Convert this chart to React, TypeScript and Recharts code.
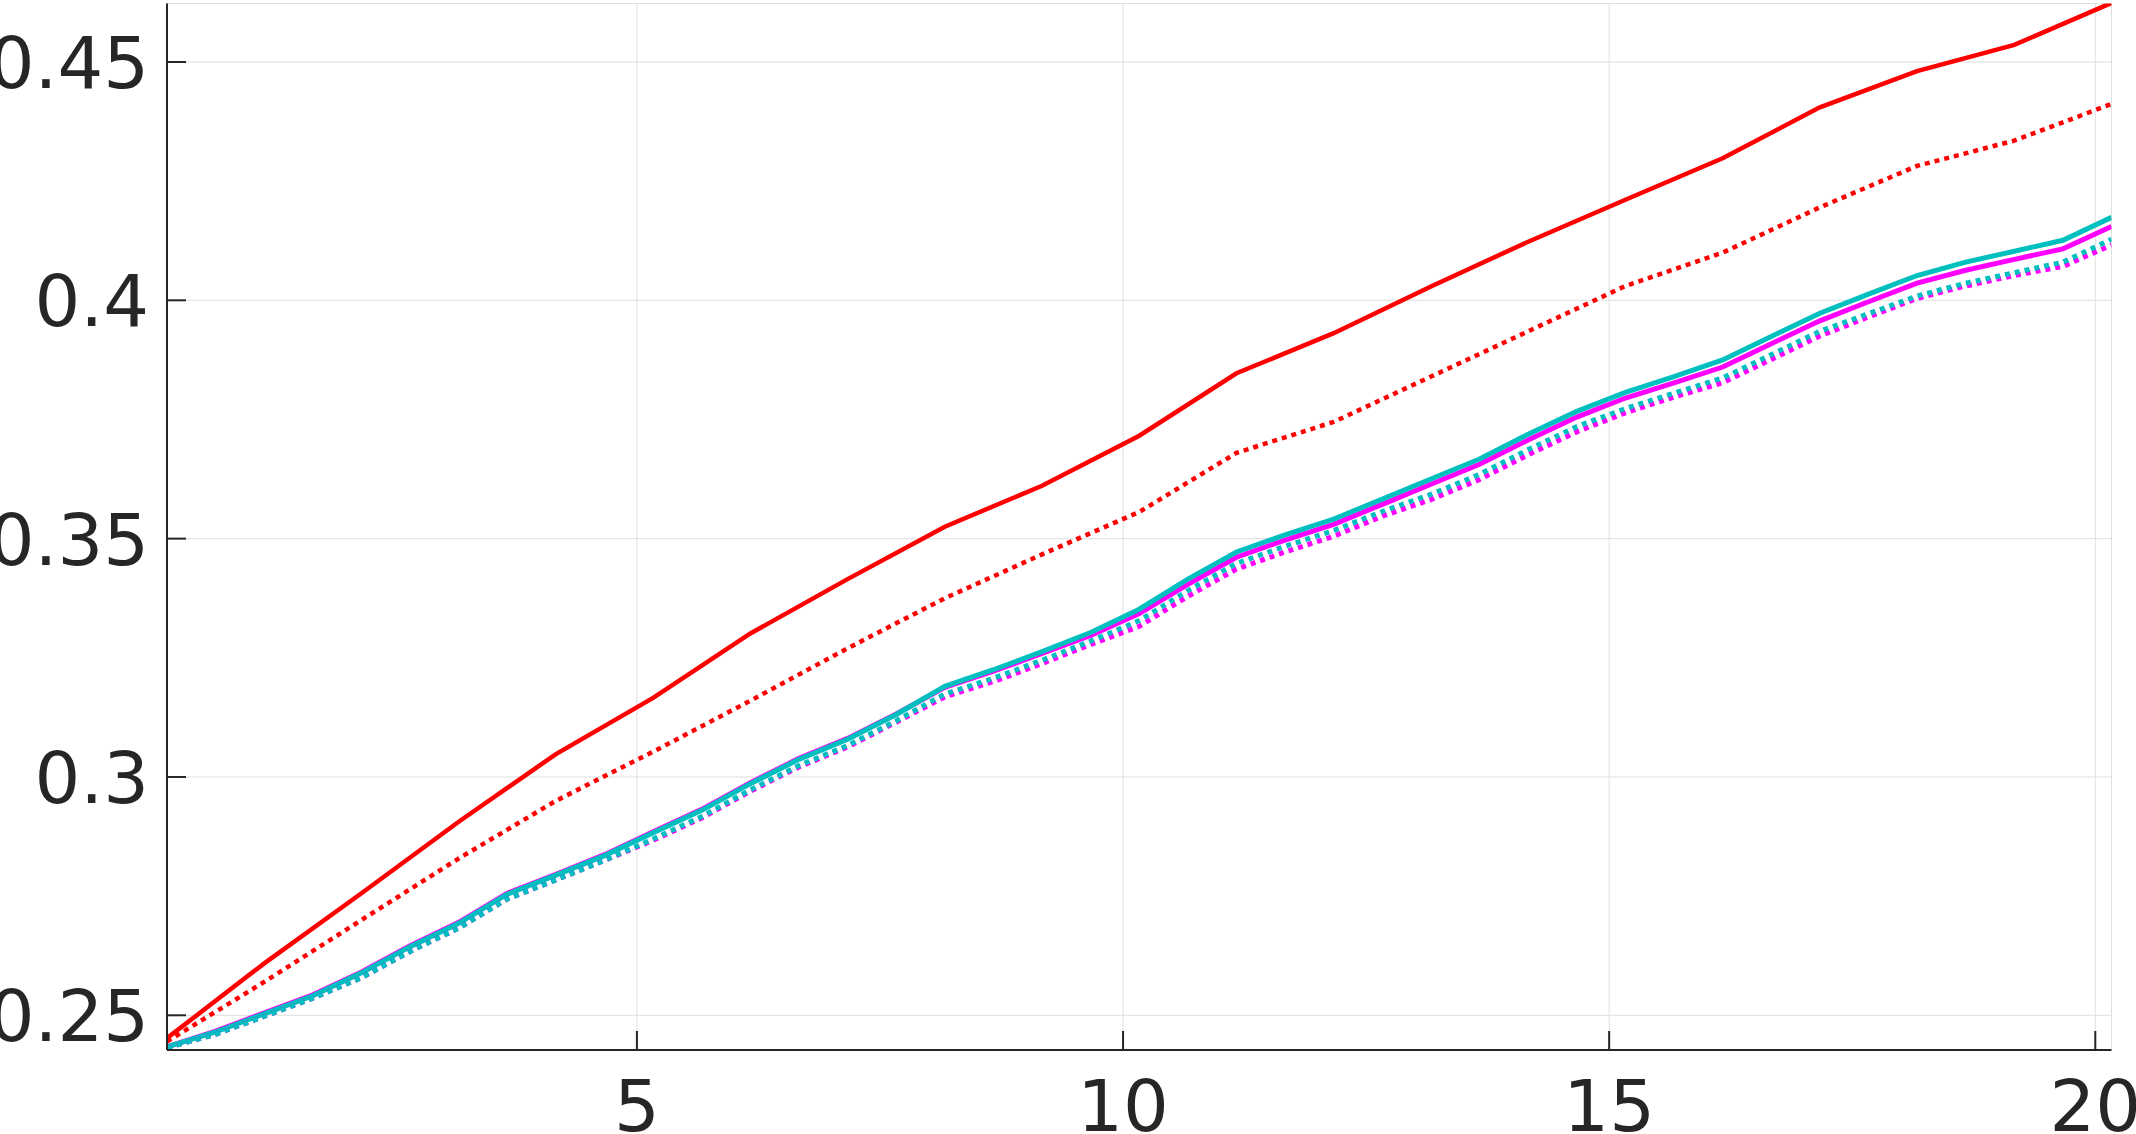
import { LineChart, Line, XAxis, YAxis, CartesianGrid } from "recharts";

// x positions: red runs are sampled once per epoch, the others every half epoch
const redX = [
  0.167, 1.167, 2.167, 3.167, 4.167, 5.167, 6.167, 7.167, 8.167, 9.167, 10.167,
  11.167, 12.167, 13.167, 14.167, 15.167, 16.167, 17.167, 18.167, 19.167, 20.167,
];
const halfX = [
  0.167, 0.667, 1.167, 1.667, 2.167, 2.667, 3.167, 3.667, 4.167, 4.667, 5.167,
  5.667, 6.167, 6.667, 7.167, 7.667, 8.167, 8.667, 9.167, 9.667, 10.167, 10.667,
  11.167, 11.667, 12.167, 12.667, 13.167, 13.667, 14.167, 14.667, 15.167, 15.667,
  16.167, 16.667, 17.167, 17.667, 18.167, 18.667, 19.167, 19.667, 20.167,
];

const redSolid = [
  0.2452, 0.2609, 0.2756, 0.2906, 0.3048, 0.3166, 0.3301, 0.3415, 0.3525, 0.3611,
  0.3716, 0.3847, 0.3931, 0.4029, 0.4123, 0.4211, 0.4298, 0.4405, 0.4481, 0.4536,
  0.4624,
];
const redDotted = [
  0.2445, 0.257, 0.27, 0.2829, 0.295, 0.3053, 0.316, 0.327, 0.3375, 0.3467,
  0.3556, 0.368, 0.3745, 0.384, 0.3935, 0.403, 0.41, 0.4195, 0.4282, 0.4335,
  0.4412,
];
const tealSolid = [
  0.2434, 0.2465, 0.2503, 0.2541, 0.2589, 0.2644, 0.2693, 0.2754, 0.2794, 0.2835,
  0.2883, 0.293, 0.2986, 0.3037, 0.3079, 0.3131, 0.319, 0.3225, 0.3263, 0.3303,
  0.3352, 0.3415, 0.3472, 0.3508, 0.3541, 0.3583, 0.3625, 0.3667, 0.3719, 0.3767,
  0.3807, 0.384, 0.3875, 0.3924, 0.3973, 0.4013, 0.4052, 0.408, 0.4103, 0.4126,
  0.4174,
];
const magentaSolid = [
  0.2434, 0.2467, 0.2505, 0.2543, 0.2591, 0.2646, 0.2695, 0.2756, 0.2796, 0.2837,
  0.2885, 0.2932, 0.2988, 0.3039, 0.3081, 0.3132, 0.3188, 0.3222, 0.3259, 0.3297,
  0.3343, 0.3404, 0.3461, 0.3497, 0.353, 0.3572, 0.3614, 0.3656, 0.3707, 0.3755,
  0.3795, 0.3827, 0.386, 0.3909, 0.3957, 0.3997, 0.4036, 0.4063, 0.4086, 0.4108,
  0.4155,
];
const tealDotted = [
  0.2432, 0.246, 0.2498, 0.2536, 0.2579, 0.2634, 0.2683, 0.2744, 0.2784, 0.2825,
  0.287, 0.2917, 0.2973, 0.3024, 0.3066, 0.3118, 0.3174, 0.3207, 0.3245, 0.3285,
  0.3328, 0.3391, 0.3448, 0.3484, 0.3517, 0.3557, 0.3593, 0.3635, 0.3687, 0.3735,
  0.3773, 0.3805, 0.3837, 0.3886, 0.3935, 0.3972, 0.4009, 0.4036, 0.4058, 0.408,
  0.4128,
];
const magentaDotted = [
  0.2432, 0.246, 0.2498, 0.2536, 0.2579, 0.2634, 0.2683, 0.2744, 0.2784, 0.2825,
  0.2867, 0.2914, 0.297, 0.3021, 0.3063, 0.3115, 0.3168, 0.32, 0.3238, 0.3278,
  0.3316, 0.3379, 0.3436, 0.3472, 0.3505, 0.3547, 0.3582, 0.3624, 0.3676, 0.3724,
  0.3764, 0.3797, 0.3827, 0.3876, 0.3925, 0.3965, 0.4004, 0.403, 0.4052, 0.4071,
  0.4116,
];

const xTicks = [5, 10, 15, 20];
const yTicks = [0.25, 0.3, 0.35, 0.4, 0.45];

const toPoints = (xs: number[], ys: number[]) =>
  xs.map((x, i) => ({ x, y: ys[i] }));

const AXIS = "#262626";
const GRID = "#dfdfdf";
const FONT = "DejaVu Sans";
const TICK_LEN = 19;
const AXIS_W = 2;

const BottomTick = ({ x, y, payload }: any) => (
  <g>
    <line x1={x} y1={y} x2={x} y2={y - TICK_LEN} stroke={AXIS} strokeWidth={AXIS_W} />
    <text
      x={x}
      y={y + 81}
      textAnchor="middle"
      fontFamily={FONT}
      fontSize={72}
      fill={AXIS}
    >
      {payload.value}
    </text>
  </g>
);

const LeftTick = ({ x, y, payload }: any) => (
  <g>
    <line x1={x} y1={y} x2={x + TICK_LEN} y2={y} stroke={AXIS} strokeWidth={AXIS_W} />
    <text
      x={x - 18}
      y={y + 26}
      textAnchor="end"
      fontFamily={FONT}
      fontSize={72}
      fill={AXIS}
    >
      {payload.value}
    </text>
  </g>
);

const TopTick = ({ x, y }: any) => (
  <line x1={x} y1={y} x2={x} y2={y + TICK_LEN} stroke={AXIS} strokeWidth={AXIS_W} />
);

const RightTick = ({ x, y }: any) => (
  <line x1={x} y1={y} x2={x - TICK_LEN} y2={y} stroke={AXIS} strokeWidth={AXIS_W} />
);

export default function App() {
  const xDomain: [number, number] = [0.1667, 20.1667];
  const yDomain: [number, number] = [0.24272, 0.46227];
  const axisLine = { stroke: AXIS, strokeWidth: AXIS_W };

  return (
    <div
      style={{
        position: "absolute",
        left: 0,
        top: 0,
        width: 2136,
        height: 1134,
        background: "#ffffff",
        overflow: "hidden",
      }}
    >
      <LineChart
        width={2136}
        height={1134}
        margin={{ top: 3.5, right: 24.5, left: 0, bottom: 0 }}
      >
        <CartesianGrid stroke={GRID} strokeWidth={1} />
        <XAxis
          type="number"
          dataKey="x"
          domain={xDomain}
          ticks={xTicks}
          interval={0}
          allowDataOverflow
          height={84}
          stroke={AXIS}
          tickSize={0}
          tickMargin={0}
          tickLine={false}
          axisLine={axisLine}
          tick={<BottomTick />}
        />
        <XAxis
          xAxisId="top"
          orientation="top"
          type="number"
          dataKey="x"
          domain={xDomain}
          ticks={xTicks}
          interval={0}
          allowDataOverflow
          height={0}
          stroke={AXIS}
          tickSize={0}
          tickMargin={0}
          tickLine={false}
          axisLine={axisLine}
          tick={<TopTick />}
        />
        <YAxis
          type="number"
          domain={yDomain}
          ticks={yTicks}
          interval={0}
          allowDataOverflow
          width={167}
          stroke={AXIS}
          tickSize={0}
          tickMargin={0}
          tickLine={false}
          axisLine={axisLine}
          tick={<LeftTick />}
        />
        <YAxis
          yAxisId="right"
          orientation="right"
          type="number"
          domain={yDomain}
          ticks={yTicks}
          interval={0}
          allowDataOverflow
          width={0}
          stroke={AXIS}
          tickSize={0}
          tickMargin={0}
          tickLine={false}
          axisLine={axisLine}
          tick={<RightTick />}
        />
        <Line
          data={toPoints(redX, redSolid)}
          dataKey="y"
          type="linear"
          stroke="#ff0000"
          strokeWidth={4.5}
          dot={false}
          activeDot={false}
          isAnimationActive={false}
        />
        <Line
          data={toPoints(redX, redDotted)}
          dataKey="y"
          type="linear"
          stroke="#ff0000"
          strokeWidth={4.5}
          strokeDasharray="5 5"
          dot={false}
          activeDot={false}
          isAnimationActive={false}
        />
        <Line
          data={toPoints(halfX, magentaSolid)}
          dataKey="y"
          type="linear"
          stroke="#ff00ff"
          strokeWidth={5}
          dot={false}
          activeDot={false}
          isAnimationActive={false}
        />
        <Line
          data={toPoints(halfX, tealSolid)}
          dataKey="y"
          type="linear"
          stroke="#00bfbf"
          strokeWidth={5}
          dot={false}
          activeDot={false}
          isAnimationActive={false}
        />
        <Line
          data={toPoints(halfX, magentaDotted)}
          dataKey="y"
          type="linear"
          stroke="#ff00ff"
          strokeWidth={5}
          strokeDasharray="5 5"
          dot={false}
          activeDot={false}
          isAnimationActive={false}
        />
        <Line
          data={toPoints(halfX, tealDotted)}
          dataKey="y"
          type="linear"
          stroke="#00bfbf"
          strokeWidth={5}
          strokeDasharray="5 5"
          dot={false}
          activeDot={false}
          isAnimationActive={false}
        />
      </LineChart>
    </div>
  );
}
